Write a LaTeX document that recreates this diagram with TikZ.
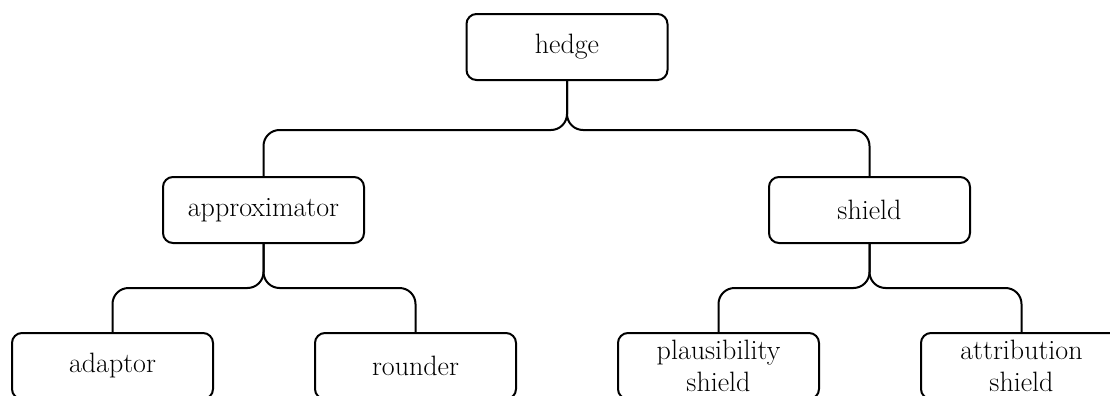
\documentclass[tikz,border=0pt]{standalone}
\usepackage{tikz}
\usetikzlibrary{positioning}
\tikzset{
    box/.style={draw, line width=1.5pt, rounded corners=7.5pt, minimum width=150.75pt, minimum height=49.5pt, align=center, font=\fontsize{21}{23.5}\selectfont, inner sep=0pt},
    link/.style={line width=1.5pt, rounded corners=12pt}
}

\begin{document}
\begin{tikzpicture}[x=0.75pt, y=-0.75pt]
        % Fix the page to the reference size
        \useasboundingbox (0,0) rectangle (1110,396);
        \clip (0,0) rectangle (1110,396);

        % Nodes
        \node[box] (hedge) at (567,47) {hedge};
        \node[box] (approx) at (263.5,210) {approximator};
        \node[box] (shield) at (869.5,210) {shield};
        \node[box] (adaptor) at (112.5,366) {adaptor};
        \node[box] (rounder) at (415.5,366) {rounder};
        \node[box] (plaus) at (718.5,366) {plausibility\\shield};
        \node[box] (attrib) at (1021.5,366) {attribution\\shield};

        % Connectors
        \draw[link] (hedge.south) |- (400,130) -| (approx.north);
        \draw[link] (hedge.south) |- (700,130) -| (shield.north);
        \draw[link] (approx.south) |- (180,288) -| (adaptor.north);
        \draw[link] (approx.south) |- (340,288) -| (rounder.north);
        \draw[link] (shield.south) |- (790,288) -| (plaus.north);
        \draw[link] (shield.south) |- (950,288) -| (attrib.north);
    \end{tikzpicture}
\end{document}
